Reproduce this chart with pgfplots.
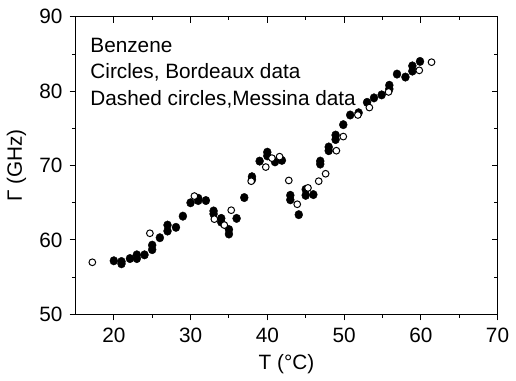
\documentclass[border=0pt]{standalone}
\usepackage{fontspec}
\setmainfont{Liberation Sans}
\usepackage{pgfplots}
\pgfplotsset{compat=1.18}
\begin{document}
\fontsize{21}{25}\selectfont
\begin{tikzpicture}
\pgfplotsset{
  common/.style={
    at={(0pt,0pt)}, anchor=south west,
    scale only axis, width=427pt, height=301pt,
    xmin=15, xmax=70, ymin=50, ymax=90,
    xtick={20,30,40,50,60,70}, ytick={50,60,70,80,90},
    minor x tick num=1, minor y tick num=1,
    axis line style={line width=1.1pt},
    major tick length=6pt, minor tick length=3.5pt,
    every tick/.style={black, line width=1pt},
    /pgf/number format/assume math mode=true,
    tick label style={font=\fontsize{21}{25}\selectfont},
    label style={font=\fontsize{21}{25}\selectfont},
  }
}
\begin{axis}[common,
  tick align=outside, xtick pos=bottom, ytick pos=left,
  xlabel={T (°C)}, ylabel={Γ (GHz)},
  xlabel style={yshift=3pt},
  ylabel style={yshift=-1pt},
  xticklabel style={yshift=-1pt},
]
\addplot[only marks, mark=*, mark size=4pt, black, mark options={fill=black, draw=black, yscale=1.08}] coordinates {
(20.0,57.2) (21.0,57.1) (21.0,56.8) (22.1,57.5) (23.0,58.0) (23.0,57.5)
(24.0,58.0) (25.0,59.3) (25.0,58.7) (26.0,60.3) (27.0,62.0) (27.0,61.2)
(28.1,61.7) (29.0,63.2) (30.0,65.0) (31.0,65.6) (31.0,65.3) (32.0,65.3)
(33.0,63.9) (33.0,63.5) (34.0,62.9) (34.0,62.4) (35.0,61.4) (35.0,60.8)
(36.0,62.9) (37.0,65.7) (38.0,68.5) (38.0,68.1) (39.0,70.6) (40.0,71.8)
(40.0,71.3) (41.0,70.5) (41.9,70.7) (43.0,66.0) (43.0,65.4) (44.1,63.4)
(45.0,66.8) (45.0,66.0) (46.0,66.1) (46.9,70.6) (46.9,70.2) (48.0,72.5)
(48.0,72.0) (48.9,74.1) (48.9,73.5) (49.9,75.5) (50.8,76.8) (51.9,77.1)
(53.0,78.5) (53.9,79.1) (54.9,79.5) (55.9,80.3) (55.9,80.8) (56.9,82.3)
(58.0,81.9) (58.9,83.4) (58.9,82.7) (59.9,84.0)
};
\addplot[only marks, mark=*, mark size=3.4pt, black, mark options={fill=white, draw=black, line width=1pt}] coordinates {
(17.2,57.0) (24.7,60.9) (30.5,65.9) (33.1,62.8) (34.4,62.0) (35.3,64.0)
(37.9,67.9) (39.8,69.8) (40.6,71.0) (41.6,71.2) (42.8,68.0) (43.9,64.8)
(45.3,67.0) (46.7,67.9) (47.6,68.9) (49.0,72.0) (49.9,73.9) (51.8,76.8)
(53.3,77.8) (55.8,79.9) (59.8,82.8) (61.4,83.9)
};
\node[anchor=west, inner sep=0pt] at (rel axis cs:0.035,0.904) {Benzene};
\node[anchor=west, inner sep=0pt] at (rel axis cs:0.035,0.814) {Circles, Bordeaux data};
\node[anchor=west, inner sep=0pt] at (rel axis cs:0.035,0.724) {Dashed circles,Messina data};
\end{axis}
\begin{axis}[common,
  tick align=inside, xtick pos=top, ytick pos=right,
  xticklabels={}, yticklabels={},
]
\end{axis}
\path[use as bounding box] (-73pt,-63pt) rectangle (443pt,318pt);
\end{tikzpicture}
\end{document}
